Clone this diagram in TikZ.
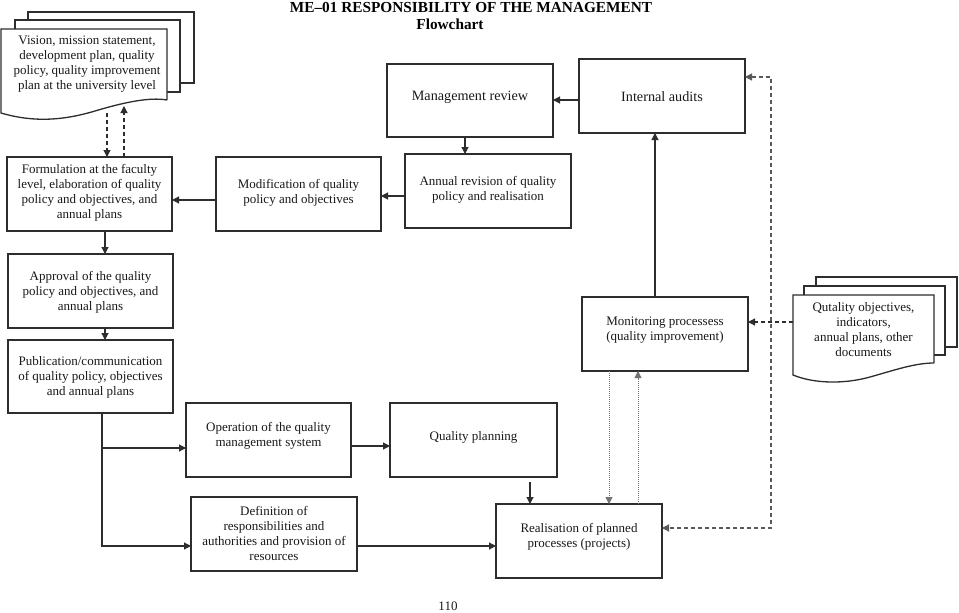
\documentclass[tikz,border=0pt]{standalone}
\usepackage{fontspec}
\setmainfont{Liberation Serif}
\usetikzlibrary{arrows.meta}
\definecolor{linec}{RGB}{45,45,45}
\begin{document}
\begin{tikzpicture}[x=1pt,y=-1pt,
  box/.style={draw=linec, line width=1.3pt, outer sep=0pt, inner sep=0pt},
  txt/.style={align=center, inner sep=0pt, text=black!90, font=\fontsize{13}{15}\selectfont},
  bigtxt/.style={txt, font=\fontsize{14.2}{15}\selectfont},
  tip/.tip={Triangle[length=7pt,width=7pt]},
  arr/.style={draw=linec, line width=1.1pt, -tip},
  dsh/.style={arr, dash pattern=on 4pt off 3pt},
  dsh2/.style={draw=black!65, line width=1.2pt, dash pattern=on 4pt off 3pt, tip-tip},
  dot/.style={draw=black!55, line width=0.8pt, dash pattern=on 1pt off 1pt, -tip}
]
\useasboundingbox (0,0) rectangle (959,613);
\fill[white] (0,0) rectangle (959,613);

% title
\node[anchor=base, inner sep=0pt, font=\fontsize{15.3}{16}\selectfont\bfseries] (title) at (471,12.7) {ME–01 RESPONSIBILITY OF THE MANAGEMENT};
\node[anchor=base, inner sep=0pt, font=\fontsize{15.3}{16}\selectfont\bfseries] (sub) at (450,30) {Flowchart};

% vision document stack
\draw[box] (28,20) -- (28,12) -- (194,12) -- (194,83) -- (180,83);
\draw[box] (15,29) -- (15,20) -- (180,20) -- (180,92) -- (167,92);
\draw[box, fill=white] (167,100) -- (167,29) -- (1,29) -- (1,113) .. controls (35,123) and (65,120) .. (95,111) .. controls (125,102) and (150,97) .. (167,100);
\node[txt] (vision) at (87,64) {Vision, mission statement,\\development plan, quality\\policy, quality improvement\\plan at the university level};

% quality objectives document stack
\draw[box] (816,286) -- (816,277) -- (957,277) -- (957,347) -- (945,347);
\draw[box] (804,295) -- (804,286) -- (945,286) -- (945,355) -- (934,355);
\draw[box, fill=white] (934,363) -- (934,295) -- (793,295) -- (793,375) .. controls (815,384) and (845,384) .. (870,377) .. controls (895,370) and (915,363) .. (934,363);
\node[txt] (qo) at (863.5,329.5) {Qutality objectives,\\indicators,\\annual plans, other\\documents};

% boxes
\node[box, minimum width=165pt, minimum height=74pt] (form) at (89.5,194) {};
\node[txt] (formT) at (89.5,192.5) {Formulation at the faculty\\level, elaboration of quality\\policy and objectives, and\\annual plans};

\node[box, minimum width=165pt, minimum height=74pt] (modif) at (298.5,194) {};
\node[txt] (modifT) at (298.5,192.5) {Modification of quality\\policy and objectives};

\node[box, minimum width=166pt, minimum height=74pt] (annual) at (488,191) {};
\node[txt] (annualT) at (488,189.5) {Annual revision of quality\\policy and realisation};

\node[box, minimum width=166pt, minimum height=73pt] (mgmt) at (470,100.5) {};
\node[bigtxt] (mgmtT) at (470,97) {Management review};

\node[box, minimum width=166pt, minimum height=74pt] (internal) at (662,96) {};
\node[bigtxt] (internalT) at (662,97) {Internal audits};

\node[box, minimum width=165pt, minimum height=74pt] (approval) at (90.5,291) {};
\node[txt] (approvalT) at (90.5,292) {Approval of the quality\\policy and objectives, and\\annual plans};

\node[box, minimum width=165pt, minimum height=73pt] (publ) at (90.5,376.5) {};
\node[txt] (publT) at (90.5,377) {Publication/communication\\of quality policy, objectives\\and annual plans};

\node[box, minimum width=166pt, minimum height=74pt] (monitor) at (665,334) {};
\node[txt] (monitorT) at (665,330) {Monitoring processess\\(quality improvement)};

\node[box, minimum width=165pt, minimum height=74pt] (op) at (268.5,440) {};
\node[txt] (opT) at (268.5,436) {Operation of the quality\\management system};

\node[box, minimum width=167pt, minimum height=74pt] (qp) at (473.5,440) {};
\node[txt] (qpT) at (473.5,437) {Quality planning};

\node[box, minimum width=166pt, minimum height=74pt] (def) at (274,534) {};
\node[txt] (defT) at (274,533) {Definition of\\responsibilities and\\authorities and provision of\\resources};

\node[box, minimum width=166pt, minimum height=74pt] (real) at (579,541) {};
\node[txt] (realT) at (579,536.5) {Realisation of planned\\processes (projects)};

\node[txt] (page) at (448,606) {110};

% helper coordinates
\coordinate (vout) at (107,113);
\coordinate (vin) at (124,106);
\coordinate (r200) at (0,200);
\coordinate (r196) at (0,196);
\coordinate (c465) at (465,0);
\coordinate (r100) at (0,100);
\coordinate (c655) at (655,0);
\coordinate (c105) at (105,0);
\coordinate (c102) at (102,0);
\coordinate (r448) at (0,448);
\coordinate (r546) at (0,546);
\coordinate (r446) at (0,446);
\coordinate (qpo) at (530,482);
\coordinate (c609) at (609,0);
\coordinate (c638) at (638,0);
\coordinate (qow) at (793,322);
\coordinate (r322) at (0,322);
\coordinate (c771) at (771,0);
\coordinate (r77) at (0,77);
\coordinate (r528) at (0,528);

% connectors
\draw[dsh] (vout) -- (vout |- form.north);
\draw[dsh] (vin |- form.north) -- (vin);
\draw[arr] (modif.west |- r200) -- (form.east |- r200);
\draw[arr] (annual.west |- r196) -- (modif.east |- r196);
\draw[arr] (c465 |- mgmt.south) -- (c465 |- annual.north);
\draw[arr] (internal.west |- r100) -- (mgmt.east |- r100);
\draw[arr] (c655 |- monitor.north) -- (c655 |- internal.south);
\draw[arr] (c105 |- form.south) -- (c105 |- approval.north);
\draw[arr] (c105 |- approval.south) -- (c105 |- publ.north);
\draw[arr] (c102 |- publ.south) |- (def.west |- r546);
\draw[arr] (c102 |- r448) -- (op.west |- r448);
\draw[arr] (op.east |- r446) -- (qp.west |- r446);
\draw[arr] (qpo) -- (qpo |- real.north);
\draw[arr] (def.east |- r546) -- (real.west |- r546);
\draw[dot] (c609 |- monitor.south) -- (c609 |- real.north);
\draw[dot] (c638 |- real.north) -- (c638 |- monitor.south);
\draw[dsh] (qow) -- (monitor.east |- r322);
\draw[dsh2] (internal.east |- r77) -| (c771 |- r528) -- (real.east |- r528);
\end{tikzpicture}
\end{document}
